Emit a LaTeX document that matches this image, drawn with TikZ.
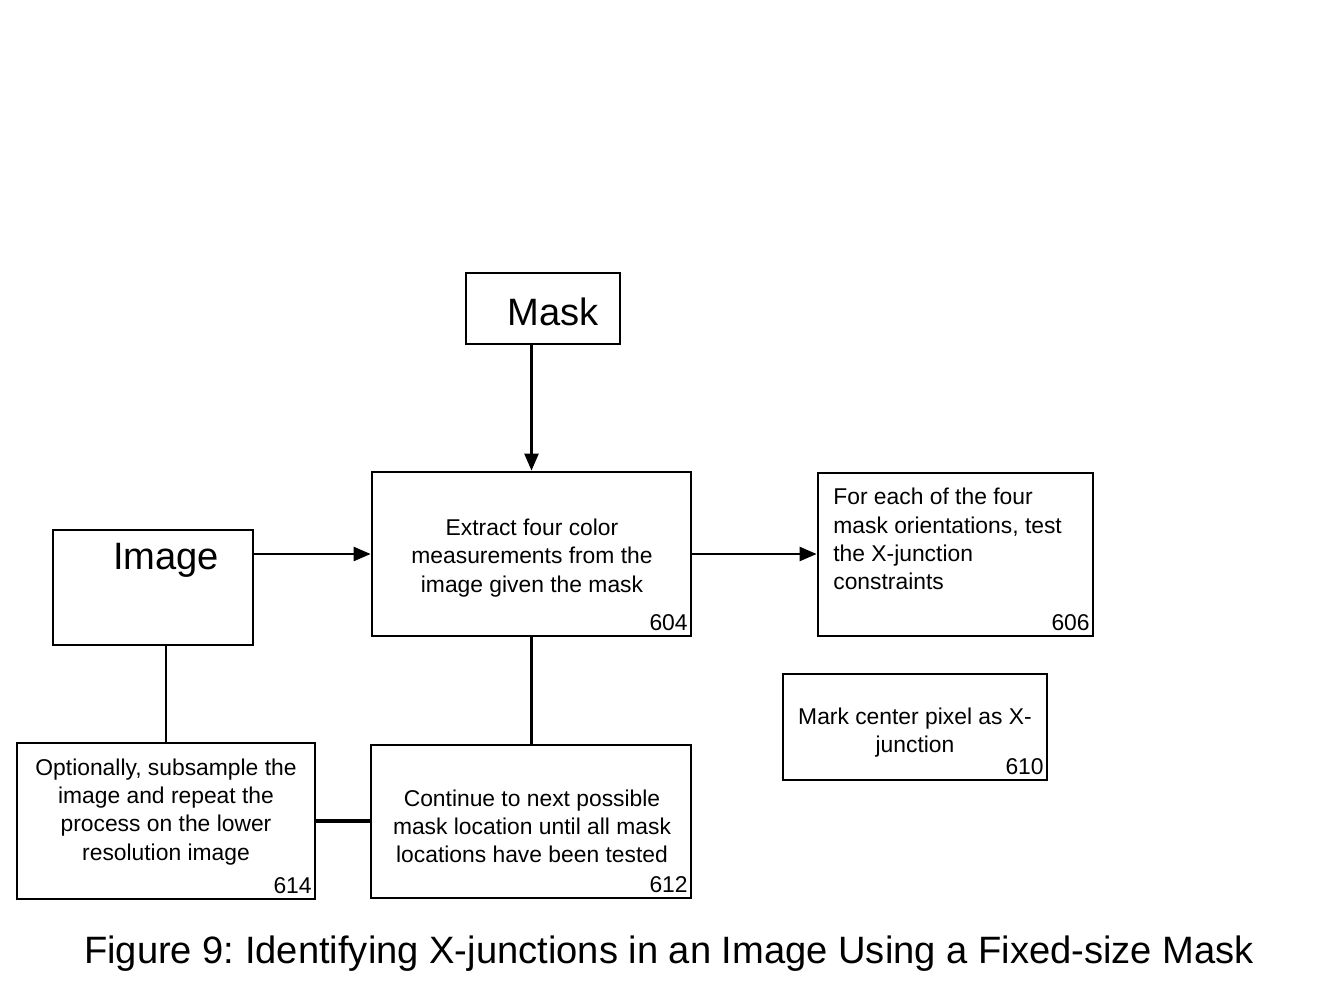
\documentclass[tikz,border=0pt]{standalone}
\usepackage{fontspec}
\setmainfont{Liberation Sans}
\usepackage{tikz}
\usetikzlibrary{positioning,arrows.meta,calc}
\frenchspacing

\begin{document}
\begin{tikzpicture}[
  x=0.02cm, y=-0.02cm,
  font=\fontsize{13}{16}\selectfont,
  blk/.style    = {draw, rectangle, line width=1.6pt, inner sep=0pt},
  txt/.style    = {align=center, inner sep=0pt},
  big/.style    = {font=\fontsize{21.7}{26}\selectfont},
  num/.style    = {anchor=south east, inner xsep=2.5pt, inner ysep=3.5pt},
  arr/.style    = {-{Triangle[length=3.4mm,width=2.8mm]}, line width=1.4pt},
  lnk/.style    = {line width=1.4pt}
]
\useasboundingbox (0,0) rectangle (1338,1003);

% Boxes
\node[blk, minimum width=3.08cm, minimum height=1.42cm] (mask)    at (543, 308.5) {};
\node[blk, minimum width=6.38cm, minimum height=3.28cm] (extract) at (531.5, 554) {};
\node[blk, minimum width=4.00cm, minimum height=2.30cm] (img)     at (153, 587.5) {};
\node[blk, minimum width=5.50cm, minimum height=3.26cm] (test)    at (955.5, 554.5) {};
\node[blk, minimum width=5.28cm, minimum height=2.12cm] (mark)    at (915, 727) {};
\node[blk, minimum width=5.96cm, minimum height=3.12cm] (subsmp)  at (166, 821) {};
\node[blk, minimum width=6.40cm, minimum height=3.06cm] (next)    at (531, 821.5) {};

% Texts
\node[txt, big] (masktxt) at (553, 312) {Mask};
\node[txt, big] (imgtxt)  at (166, 560) {Image};
\node[txt] (extracttxt) at (532, 558) {Extract four color\\measurements from the\\image given the mask};
\node[txt, align=left, anchor=west] (testtxt) at (833, 539) {For each of the four\\mask orientations, test\\the X-junction\\constraints};
\node[txt] (marktxt) at (915, 733) {Mark center pixel as X-\\junction};
\node[txt] (subsmptxt) at (166, 812) {Optionally, subsample the\\image and repeat the\\process on the lower\\resolution image};
\node[txt] (nexttxt) at (532, 826) {Continue to next possible\\mask location until all mask\\locations have been tested};

% Reference numbers
\node[num] (n604) at (extract.south east) {604};
\node[num] (n606) at (test.south east)    {606};
\node[num] (n610) at (mark.south east)    {610};
\node[num] (n612) at (next.south east)    {612};
\node[num] (n614) at (subsmp.south east)  {614};

% Connectors
\draw[arr] (extract.north |- mask.south) -- (extract.north);
\draw[arr] (img.east |- extract.west) -- (extract.west);
\draw[arr] (extract.east) -- (extract.east -| test.west);
\draw[lnk] (extract.south) -- (extract.south |- next.north);
\draw[lnk] (img.south -| subsmp.north) -- (subsmp.north);
\draw[line width=2.6pt] (subsmp.east) -- (subsmp.east -| next.west);

% Caption
\node[txt, big] (caption) at (669, 954)
  {Figure 9: Identifying X-junctions in an Image Using a Fixed-size Mask};
\end{tikzpicture}
\end{document}
